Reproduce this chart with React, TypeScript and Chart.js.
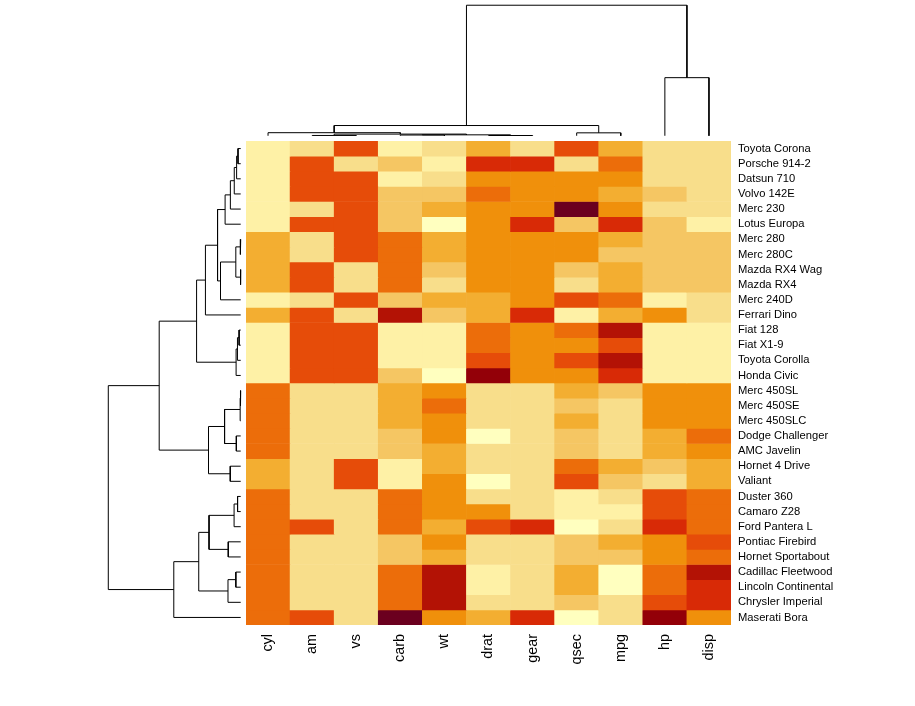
import React, { useEffect, useRef } from "react";
import { Chart, registerables } from "chart.js";
Chart.register(...registerables);

// ---- data (mtcars, rows in displayed order, top to bottom) ----
const carNames = [
  "Toyota Corona", "Porsche 914-2", "Datsun 710", "Volvo 142E", "Merc 230", "Lotus Europa",
  "Merc 280", "Merc 280C", "Mazda RX4 Wag", "Mazda RX4", "Merc 240D", "Ferrari Dino",
  "Fiat 128", "Fiat X1-9", "Toyota Corolla", "Honda Civic", "Merc 450SL", "Merc 450SE",
  "Merc 450SLC", "Dodge Challenger", "AMC Javelin", "Hornet 4 Drive", "Valiant", "Duster 360",
  "Camaro Z28", "Ford Pantera L", "Pontiac Firebird", "Hornet Sportabout", "Cadillac Fleetwood",
  "Lincoln Continental", "Chrysler Imperial", "Maserati Bora",
];
const varNames = ["cyl", "am", "vs", "carb", "wt", "drat", "gear", "qsec", "mpg", "hp", "disp"];

const mpg = [21.5, 26.0, 22.8, 21.4, 22.8, 30.4, 19.2, 17.8, 21.0, 21.0, 24.4, 19.7, 32.4, 27.3, 33.9, 30.4, 17.3, 16.4, 15.2, 15.5, 15.2, 21.4, 18.1, 14.3, 13.3, 15.8, 19.2, 18.7, 10.4, 10.4, 14.7, 15.0];
const cyl = [4, 4, 4, 4, 4, 4, 6, 6, 6, 6, 4, 6, 4, 4, 4, 4, 8, 8, 8, 8, 8, 6, 6, 8, 8, 8, 8, 8, 8, 8, 8, 8];
const disp = [120.1, 120.3, 108.0, 121.0, 140.8, 95.1, 167.6, 167.6, 160.0, 160.0, 146.7, 145.0, 78.7, 79.0, 71.1, 75.7, 275.8, 275.8, 275.8, 318.0, 304.0, 258.0, 225.0, 360.0, 350.0, 351.0, 400.0, 360.0, 472.0, 460.0, 440.0, 301.0];
const hp = [97, 91, 93, 109, 95, 113, 123, 123, 110, 110, 62, 175, 66, 66, 65, 52, 180, 180, 180, 150, 150, 110, 105, 245, 245, 264, 175, 175, 205, 215, 230, 335];
const drat = [3.70, 4.43, 3.85, 4.11, 3.92, 3.77, 3.92, 3.92, 3.90, 3.90, 3.69, 3.62, 4.08, 4.08, 4.22, 4.93, 3.07, 3.07, 3.07, 2.76, 3.15, 3.08, 2.76, 3.21, 3.73, 4.22, 3.08, 3.15, 2.93, 3.00, 3.23, 3.54];
const wt = [2.465, 2.140, 2.320, 2.780, 3.150, 1.513, 3.440, 3.440, 2.875, 2.620, 3.190, 2.770, 2.200, 1.935, 1.835, 1.615, 3.730, 4.070, 3.780, 3.520, 3.435, 3.215, 3.460, 3.570, 3.840, 3.170, 3.845, 3.440, 5.250, 5.424, 5.345, 3.570];
const qsec = [20.01, 16.70, 18.61, 18.60, 22.90, 16.90, 18.30, 18.90, 17.02, 16.46, 20.00, 15.50, 19.47, 18.90, 19.90, 18.52, 17.60, 17.40, 18.00, 16.87, 17.30, 19.44, 20.22, 15.84, 15.41, 14.50, 17.05, 17.02, 17.98, 17.82, 17.42, 14.60];
const vs = [1, 0, 1, 1, 1, 1, 1, 1, 0, 0, 1, 0, 1, 1, 1, 1, 0, 0, 0, 0, 0, 1, 1, 0, 0, 0, 0, 0, 0, 0, 0, 0];
const am = [0, 1, 1, 1, 0, 1, 0, 0, 1, 1, 0, 1, 1, 1, 1, 1, 0, 0, 0, 0, 0, 0, 0, 0, 0, 1, 0, 0, 0, 0, 0, 1];
const gear = [3, 5, 4, 4, 4, 5, 4, 4, 4, 4, 4, 5, 4, 4, 4, 4, 3, 3, 3, 3, 3, 3, 3, 3, 3, 5, 3, 3, 3, 3, 3, 5];
const carb = [1, 2, 1, 2, 2, 2, 4, 4, 4, 4, 2, 6, 1, 1, 1, 2, 3, 3, 3, 2, 2, 1, 1, 4, 4, 4, 2, 2, 4, 4, 4, 8];

const columnsByName: Record<string, number[]> = { cyl, am, vs, carb, wt, drat, gear, qsec, mpg, hp, disp };

// palette, light (low) to dark (high)
const heatPalette = [
  "#FFFFBF", "#FEF1A6", "#F8DE8B", "#F5C663", "#F3AE31", "#F0900B",
  "#EC6D0A", "#E64C09", "#D82A06", "#B31205", "#930008", "#6B001F",
];

// ---- geometry ----
const HM_LEFT = 246;
const HM_TOP = 141;
const HM_W = 485;
const HM_H = 484;
const FONT = "'Liberation Sans', Arial, Helvetica, sans-serif";

// ---- helpers ----
function columnScaled(values: number[]): number[] {
  const n = values.length;
  const mean = values.reduce((a, b) => a + b, 0) / n;
  const sd = Math.sqrt(values.reduce((a, b) => a + (b - mean) * (b - mean), 0) / (n - 1));
  return values.map((v) => (v - mean) / sd);
}

type Node = { left?: Node; right?: Node; height: number; leaf?: number; members: number[] };

function hclustComplete(vectors: number[][]): Node {
  const n = vectors.length;
  const D: number[][] = [];
  for (let i = 0; i < n; i++) {
    D.push([]);
    for (let j = 0; j < n; j++) {
      let s = 0;
      for (let k = 0; k < vectors[i].length; k++) {
        const d = vectors[i][k] - vectors[j][k];
        s += d * d;
      }
      D[i].push(Math.sqrt(s));
    }
  }
  let clusters: Node[] = vectors.map((_, i) => ({ height: 0, leaf: i, members: [i] }));
  while (clusters.length > 1) {
    let best = Infinity;
    let bi = 0;
    let bj = 1;
    for (let i = 0; i < clusters.length; i++) {
      for (let j = i + 1; j < clusters.length; j++) {
        let m = 0;
        for (const a of clusters[i].members) for (const b of clusters[j].members) m = Math.max(m, D[a][b]);
        if (m < best) {
          best = m;
          bi = i;
          bj = j;
        }
      }
    }
    const merged: Node = {
      left: clusters[bi],
      right: clusters[bj],
      height: best,
      members: [...clusters[bi].members, ...clusters[bj].members],
    };
    clusters = clusters.filter((_, k) => k !== bi && k !== bj);
    clusters.push(merged);
  }
  return clusters[0];
}

// returns polyline points {pos, h} with null separators
function dendroPaths(root: Node): { pos: number | null; h: number | null }[] {
  const out: { pos: number | null; h: number | null }[] = [];
  const place = (node: Node): number => {
    if (node.leaf !== undefined) return node.leaf;
    const pl = place(node.left!);
    const pr = place(node.right!);
    out.push({ pos: pl, h: node.left!.height });
    out.push({ pos: pl, h: node.height });
    out.push({ pos: pr, h: node.height });
    out.push({ pos: pr, h: node.right!.height });
    out.push({ pos: null, h: null });
    return (pl + pr) / 2;
  };
  place(root);
  return out;
}

export default function App() {
  const heatRef = useRef<HTMLCanvasElement>(null);
  const topRef = useRef<HTMLCanvasElement>(null);
  const leftRef = useRef<HTMLCanvasElement>(null);

  useEffect(() => {
    const charts: Chart[] = [];

    // heat colors: column scaling, 12 equal bins over the full range
    const scaledCols = varNames.map((v) => columnScaled(columnsByName[v]));
    let zmin = Infinity;
    let zmax = -Infinity;
    scaledCols.forEach((c) => c.forEach((v) => { zmin = Math.min(zmin, v); zmax = Math.max(zmax, v); }));
    const nb = heatPalette.length;
    const binOf = (v: number) => {
      const t = ((v - zmin) / (zmax - zmin)) * nb;
      return Math.min(nb - 1, Math.max(0, Math.ceil(t - 1e-9) - 1));
    };

    const datasets = carNames.map((_, r) => ({
      data: varNames.map(() => [r, r + 1]),
      backgroundColor: varNames.map((_, j) => heatPalette[binOf(scaledCols[j][r])]),
      borderWidth: 0,
      grouped: false,
      barPercentage: 1,
      categoryPercentage: 1,
    }));

    const heatW = 915 - HM_LEFT;
    const heatH = 706 - HM_TOP;

    charts.push(
      new Chart(heatRef.current!, {
        type: "bar",
        data: { labels: varNames, datasets: datasets as any },
        options: {
          animation: false,
          responsive: false,
          events: [],
          layout: { padding: 0 },
          plugins: { legend: { display: false }, tooltip: { enabled: false } },
          scales: {
            x: {
              type: "category",
              position: "bottom",
              grid: { display: false, drawTicks: false },
              border: { display: false },
              ticks: {
                autoSkip: false,
                minRotation: 90,
                maxRotation: 90,
                padding: 9,
                color: "#000",
                font: { family: FONT, size: 14.4 },
              },
              afterFit: (s: any) => {
                s.height = heatH - HM_H;
                s.paddingLeft = 0;
                s.paddingRight = 0;
              },
            },
            y: {
              type: "linear",
              position: "right",
              min: 0,
              max: carNames.length,
              reverse: true,
              grid: { display: false, drawTicks: false },
              border: { display: false },
              afterBuildTicks: (s: any) => {
                s.ticks = carNames.map((_, i) => ({ value: i + 0.5 }));
              },
              ticks: {
                autoSkip: false,
                padding: 7,
                color: "#000",
                font: { family: FONT, size: 11.2 },
                callback: (_v: any, i: number) => carNames[i],
              },
              afterFit: (s: any) => {
                s.width = heatW - HM_W;
                s.paddingTop = 0;
                s.paddingBottom = 0;
              },
            },
          },
        },
      })
    );

    // column dendrogram (raw data)
    const colTree = hclustComplete(varNames.map((v) => columnsByName[v]));
    const colPaths = dendroPaths(colTree);
    const Hc = colTree.height;
    charts.push(
      new Chart(topRef.current!, {
        type: "scatter",
        data: {
          datasets: [
            {
              data: colPaths.map((p) => ({ x: p.pos as any, y: p.h as any })),
              showLine: true,
              spanGaps: false,
              pointRadius: 0,
              borderWidth: 1,
              borderColor: "#000",
            },
          ],
        },
        options: {
          animation: false,
          responsive: false,
          events: [],
          layout: { padding: 0 },
          plugins: { legend: { display: false }, tooltip: { enabled: false } },
          scales: {
            x: { type: "linear", display: false, min: -0.5, max: varNames.length - 0.5 },
            y: { type: "linear", display: false, min: -0.04 * Hc, max: 1.04 * Hc },
          },
        },
      })
    );

    // row dendrogram (raw data)
    const rowVectors = carNames.map((_, i) => [mpg[i], cyl[i], disp[i], hp[i], drat[i], wt[i], qsec[i], vs[i], am[i], gear[i], carb[i]]);
    const rowTree = hclustComplete(rowVectors);
    const rowPaths = dendroPaths(rowTree);
    const Hr = rowTree.height;
    charts.push(
      new Chart(leftRef.current!, {
        type: "scatter",
        data: {
          datasets: [
            {
              data: rowPaths.map((p) => ({ x: p.h as any, y: p.pos as any })),
              showLine: true,
              spanGaps: false,
              pointRadius: 0,
              borderWidth: 1,
              borderColor: "#000",
            },
          ],
        },
        options: {
          animation: false,
          responsive: false,
          events: [],
          layout: { padding: 0 },
          plugins: { legend: { display: false }, tooltip: { enabled: false } },
          scales: {
            x: { type: "linear", display: false, reverse: true, min: -0.04 * Hr, max: 1.04 * Hr },
            y: { type: "linear", display: false, reverse: true, min: -0.5, max: carNames.length - 0.5 },
          },
        },
      })
    );

    return () => charts.forEach((c) => c.destroy());
  }, []);

  return (
    <div style={{ position: "absolute", left: 0, top: 0, width: 915, height: 706, background: "#fff", overflow: "hidden" }}>
      <canvas
        ref={topRef}
        width={HM_W}
        height={HM_TOP}
        style={{ position: "absolute", left: HM_LEFT, top: 0, width: HM_W, height: HM_TOP }}
      />
      <canvas
        ref={leftRef}
        width={HM_LEFT - 103}
        height={HM_H}
        style={{ position: "absolute", left: 103, top: HM_TOP, width: HM_LEFT - 103, height: HM_H }}
      />
      <canvas
        ref={heatRef}
        width={915 - HM_LEFT}
        height={706 - HM_TOP}
        style={{ position: "absolute", left: HM_LEFT, top: HM_TOP, width: 915 - HM_LEFT, height: 706 - HM_TOP }}
      />
    </div>
  );
}
